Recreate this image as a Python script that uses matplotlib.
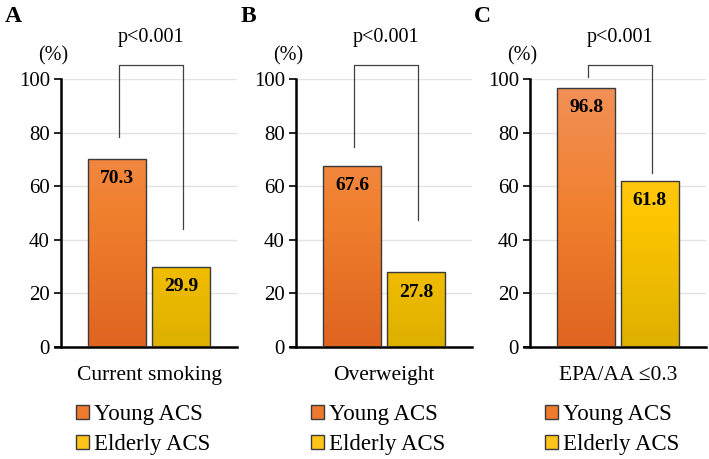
import numpy as np
import matplotlib
matplotlib.use("Agg")
import matplotlib.pyplot as plt
from matplotlib.patches import Patch
from matplotlib.colors import LinearSegmentedColormap

plt.rcParams['font.family'] = ['Liberation Serif', 'DejaVu Serif']

# ---- data ----
panel_letters = ["A", "B", "C"]
categories = ["Current smoking", "Overweight", "EPA/AA \u22640.3"]
groups = ["Young ACS", "Elderly ACS"]
young_values = [70.3, 67.6, 96.8]
elderly_values = [29.9, 27.8, 61.8]
p_labels = ["p<0.001", "p<0.001", "p<0.001"]
bracket_left_ends = [78.4, 74.6, 100.7]
bracket_right_ends = [44.0, 47.4, 64.9]
bracket_top = 105.2
yticks = [0, 20, 40, 60, 80, 100]

W, H = 709, 459
fig = plt.figure(figsize=(W / 100, H / 100), dpi=100)

axes_left_px = [61, 296, 530]
axes_width_px = 176
axes_top_px, axes_bottom_px = 79, 347

orange_cmap = LinearSegmentedColormap.from_list("o", ["#DF6420", "#F0802E", "#F2915A"])
yellow_cmap = LinearSegmentedColormap.from_list("y", ["#DDB000", "#FFC600", "#FFCC45"])
cmaps = [orange_cmap, yellow_cmap]
edge_col = "#3a3a3a"

for i in range(3):
    ax = fig.add_axes([axes_left_px[i] / W, (H - axes_bottom_px) / H,
                       axes_width_px / W, (axes_bottom_px - axes_top_px) / H])
    vals = [young_values[i], elderly_values[i]]
    bars = ax.bar([0, 1], vals, width=0.915, color="none", edgecolor=edge_col,
                  linewidth=1.0, zorder=3)
    grad = np.linspace(0, 1, 256).reshape(-1, 1)
    for b, cm in zip(bars, cmaps):
        x0, y0 = b.get_x(), b.get_y()
        x1, y1 = x0 + b.get_width(), y0 + b.get_height()
        im = ax.imshow(grad, cmap=cm, origin="lower", extent=[x0, x1, y0, 100],
                       aspect="auto", zorder=2)
        im.set_clip_path(b)
        ax.annotate(f"{b.get_height():.1f}", (b.get_x() + b.get_width() / 2, y1),
                    xytext=(0, -8), textcoords="offset points", ha="center", va="top",
                    fontsize=14, fontweight="bold", zorder=5)
    ax.set_xlim(-0.88, 1.88)
    ax.set_ylim(0, 100)

    ax.set_yticks(yticks)
    ax.tick_params(axis="y", direction="out", length=5, width=1.2, labelsize=15, pad=3)
    ax.set_xticks([])
    ax.yaxis.grid(True, color="#E3E3E3", linewidth=1.0, zorder=0)
    ax.set_axisbelow(True)
    for s in ["top", "right"]:
        ax.spines[s].set_visible(False)
    ax.spines["left"].set_linewidth(1.8)
    ax.spines["bottom"].set_linewidth(1.8)
    ax.spines["bottom"].set_bounds(-0.88 - 0.09, 1.88)

    # bracket
    xl, xr = 0.03, 1.03
    ax.plot([xl, xl, xr, xr], [bracket_left_ends[i], bracket_top, bracket_top,
                              bracket_right_ends[i]],
            color="#404040", linewidth=0.9, clip_on=False, zorder=4)
    ax.text((xl + xr) / 2, 115.5, p_labels[i], ha="center", va="center", fontsize=14.5)

    # (%) label
    ax.text(-0.045, 108.5, "(%)", transform=ax.get_yaxis_transform(), ha="center",
            va="center", fontsize=14.5)
    # category label
    ax.text(0.5, -0.105, categories[i], transform=ax.transAxes, ha="center",
            va="center", fontsize=15.5)
    # panel letter
    fig.text((axes_left_px[i] - 48) / W, 1 - 17 / H, panel_letters[i],
             fontsize=17, fontweight="bold", ha="center", va="center")

    # legend
    handles = [Patch(facecolor=c, edgecolor=edge_col, linewidth=1.0)
               for c in ["#EE7A2E", "#FFC41A"]]
    ax.legend(handles, groups, loc="upper left",
              bbox_to_anchor=((axes_left_px[i] + 15) / W, 1 - 404 / H),
              bbox_transform=fig.transFigure, frameon=False, fontsize=16.5,
              handlelength=0.55, handleheight=0.55, handletextpad=0.22,
              labelspacing=0.38, borderpad=0, borderaxespad=0)

fig.savefig("out.png", dpi=100)
